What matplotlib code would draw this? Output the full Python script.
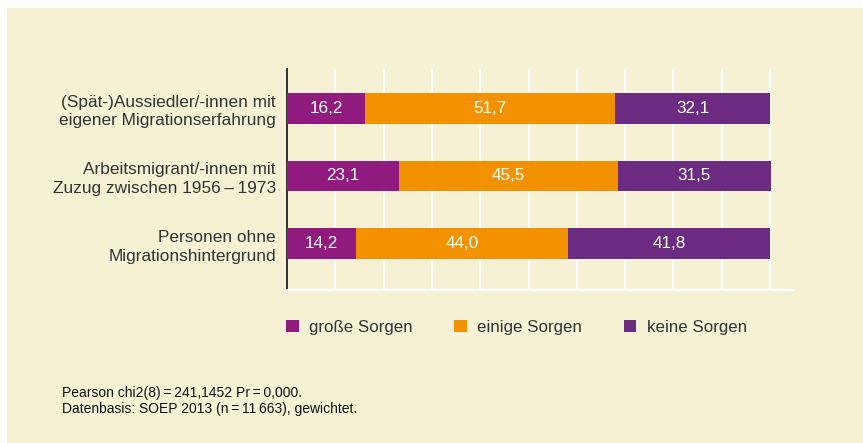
import numpy as np
import matplotlib.pyplot as plt
from matplotlib.patches import Rectangle, Patch

plt.rcParams['font.family'] = ['Liberation Sans', 'DejaVu Sans']

# Daten (Prozent)
categories = ["(Spät-)Aussiedler/-innen mit\neigener Migrationserfahrung",
              "Arbeitsmigrant/-innen mit\nZuzug zwischen 1956\u2009\u2013\u20091973",
              "Personen ohne\nMigrationshintergrund"]
grosse = [16.2, 23.1, 14.2]
einige = [51.7, 45.5, 44.0]
keine = [32.1, 31.5, 41.8]
series_names = ["große Sorgen", "einige Sorgen", "keine Sorgen"]
colors = ["#901A7E", "#F39200", "#6A2B81"]

bg = "#F6F0D5"
txt = "#333333"

W, H = 863, 443
fig = plt.figure(figsize=(W / 100, H / 100), dpi=100)
fig.patch.set_facecolor("white")
fig.add_artist(Rectangle((7 / W, 0), 1 - 7 / W, 1 - 8 / H, transform=fig.transFigure,
                         facecolor=bg, edgecolor="none", zorder=0))

ax = fig.add_axes([287 / W, 1 - 290 / H, (793.3 - 287) / W, (290 - 69) / H])
ax.set_facecolor("none")

y = np.arange(len(categories))
left = np.zeros(len(categories))
for vals, name, col in zip([grosse, einige, keine], series_names, colors):
    bars = ax.barh(y, vals, left=left, height=0.456, color=col, label=name, zorder=3)
    ax.bar_label(bars, labels=[f"{v:.1f}".replace(".", ",") for v in vals],
                 label_type="center", color="white", fontsize=12.3)
    left = left + np.array(vals)

ax.set_xlim(0, 104.8)
ax.set_ylim(2.684, -0.58)
ax.set_xticks(np.arange(10, 101, 10))
ax.xaxis.grid(True, color="white", linewidth=1.6, zorder=1)
ax.tick_params(axis="x", length=0, labelbottom=False)
ax.set_yticks(y)
ax.set_yticklabels(categories, fontsize=12.4, color=txt, linespacing=1.3)
ax.tick_params(axis="y", length=0, pad=8)
for s in ["top", "right"]:
    ax.spines[s].set_visible(False)
ax.spines["left"].set_color("#222222")
ax.spines["left"].set_linewidth(1.3)
ax.spines["bottom"].set_color("white")
ax.spines["bottom"].set_linewidth(1.6)

handles = [Patch(facecolor=c, edgecolor="none") for c in colors]
fig.legend(handles, series_names, loc="center left", bbox_to_anchor=(286 / W, 1 - 327.5 / H),
           ncol=3, frameon=False, fontsize=12.2, handlelength=0.76, handleheight=0.76,
           handletextpad=0.6, columnspacing=2.45, borderpad=0, borderaxespad=0,
           labelcolor=txt)

fig.text(62 / W, 1 - 393 / H, "Pearson chi2(8)\u2009=\u2009241,1452 Pr\u2009=\u20090,000.",
         fontsize=10, color="#111111", va="center")
fig.text(62 / W, 1 - 409 / H, "Datenbasis: SOEP 2013 (n\u2009=\u200911\u2009663), gewichtet.",
         fontsize=10, color="#111111", va="center")

fig.savefig("out.png", dpi=100)
